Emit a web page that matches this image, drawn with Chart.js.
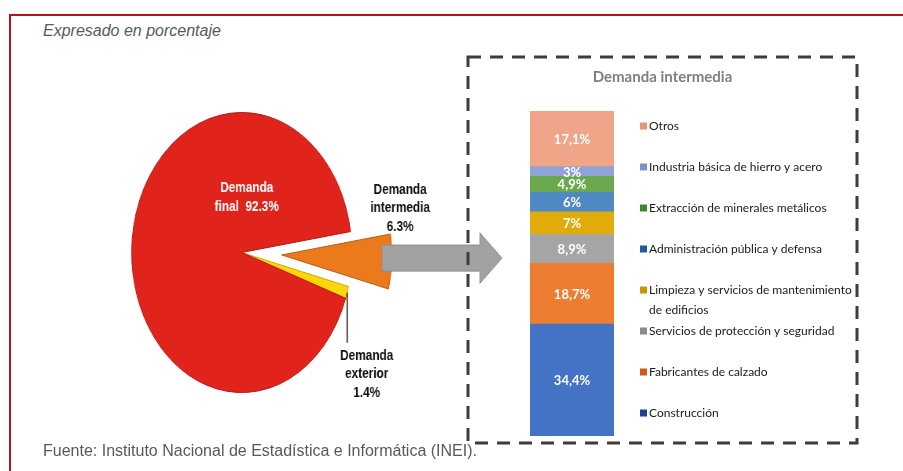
<!DOCTYPE html>
<html>
<head>
<meta charset="utf-8">
<script src="https://cdn.jsdelivr.net/npm/chart.js@4.4.0/dist/chart.umd.min.js"></script>
<style>
  html, body { margin: 0; padding: 0; background: #fff; }
  body { width: 903px; height: 471px; position: relative; overflow: hidden; }
  #frame { position: absolute; left: 9px; top: 14px; right: -5px; bottom: -5px;
           border-top: 2px solid #b81414; border-left: 2px solid #b81414; }
  #subtitle { position: absolute; left: 43px; top: 22px; white-space: nowrap;
              font: italic 16px "Liberation Sans", Arial, sans-serif; color: #595959; }
  #source { position: absolute; left: 43px; top: 442px; white-space: nowrap;
            font: 16px "Liberation Sans", Arial, sans-serif; color: #595959; }
  #pieChart { position: absolute; left: 0; top: 0; transform: scaleX(0.786); transform-origin: 0 0; }
  #barChart { position: absolute; left: 462px; top: 50px; }
</style>
</head>
<body>
<div id="frame"></div>
<div id="subtitle">Expresado en porcentaje</div>
<canvas id="pieChart" width="650" height="471"></canvas>
<canvas id="barChart" width="402" height="400"></canvas>
<div id="source">Fuente: Instituto Nacional de Estadística e Informática (INEI).</div>
<script>
// pie: share of demand
const pieLabels = ['Demanda intermedia', 'Demanda exterior', 'Demanda final'];
const pieValues = [6.3, 1.4, 92.3];
const pieColors = ['#ea7a1c', '#ffd60a', '#e1241b'];
const pieBorders = ['#b85c14', '#d9a400', '#b51616'];

// stacked bar: breakdown of intermediate demand (bottom to top)
const barCategories = [
    'Construcción',
    'Fabricantes de calzado',
    'Servicios de protección y seguridad',
    'Limpieza y servicios de mantenimiento de edificios',
    'Administración pública y defensa',
    'Extracción de minerales metálicos',
    'Industria básica de hierro y acero',
    'Otros'
];
const barValues = [34.4, 18.7, 8.9, 7, 6, 4.9, 3, 17.1];
const barColors = ['#4472c4', '#ed7d31', '#a5a5a5', '#e2ab0c', '#4f89c4', '#6aa84f', '#8fa3d6', '#f0a488'];
const swatchColors = ['#1f3f8f', '#d4561a', '#8a8a8a', '#c99500', '#1f5c99', '#3a8a2e', '#7f90c8', '#e8967a'];

const explode = 51;  // px the first slice is pulled out

const pieDecor = {
    id: 'pieDecor',
    afterDatasetsUpdate(chart) {
        // pull the slice out without the radius growth of the built-in offset
        const arc = chart.getDatasetMeta(0).data[0];
        if (arc._exploded) return;
        const draw = arc.draw;
        arc.draw = function (ctx, area) {
            const m = (this.startAngle + this.endAngle) / 2;
            ctx.save();
            ctx.translate(Math.cos(m) * explode, Math.sin(m) * explode);
            draw.call(this, ctx, area);
            ctx.restore();
        };
        arc._exploded = true;
    },
    afterDatasetsDraw(chart) {
        const ctx = chart.ctx;
        const arcs = chart.getDatasetMeta(0).data;
        const inter = arcs[0], ext = arcs[1];
        const cx = inter.x, cy = inter.y, r = inter.outerRadius;

        // grey arrow pointing to the breakdown
        const x0 = cx + 1.275 * r, xb = cx + 2.165 * r, xt = cx + 2.365 * r;
        const yc = cy + 0.04 * r, hb = 0.093 * r, hh = 0.18 * r;
        ctx.save();
        ctx.beginPath();
        ctx.moveTo(x0, yc - hb);
        ctx.lineTo(xb, yc - hb);
        ctx.lineTo(xb, yc - hh);
        ctx.lineTo(xt, yc);
        ctx.lineTo(xb, yc + hh);
        ctx.lineTo(xb, yc + hb);
        ctx.lineTo(x0, yc + hb);
        ctx.closePath();
        ctx.fillStyle = '#a2a2a2';
        ctx.fill();
        ctx.strokeStyle = '#8c8c8c';
        ctx.lineWidth = 1;
        ctx.stroke();

        // leader line for the thin slice
        const mid = (ext.startAngle + ext.endAngle) / 2;
        const lx = cx + Math.cos(mid) * r, ly = cy + Math.sin(mid) * r;
        ctx.beginPath();
        ctx.moveTo(lx, ly);
        ctx.lineTo(lx, cy + 0.645 * r);
        ctx.strokeStyle = '#111';
        ctx.lineWidth = 1.5;
        ctx.stroke();

        ctx.font = 'bold 15px "Liberation Sans", Arial, sans-serif';
        ctx.textAlign = 'center';
        ctx.textBaseline = 'middle';
        const lh = 18.5;
        ctx.fillStyle = '#fff';
        ctx.fillText('Demanda', cx + 0.046 * r, cy - 0.46 * r);
        ctx.fillText('final  ' + pieValues[2] + '%', cx + 0.046 * r, cy - 0.46 * r + lh);

        ctx.fillStyle = '#111';
        const ix = cx + 1.44 * r, iy = cy - 0.448 * r;
        ctx.fillText('Demanda', ix, iy);
        ctx.fillText('intermedia', ix, iy + lh);
        ctx.fillText(pieValues[0] + '%', ix, iy + 2 * lh);

        const ex = cx + 1.136 * r, ey = cy + 0.738 * r;
        ctx.fillText('Demanda', ex, ey);
        ctx.fillText('exterior', ex, ey + lh);
        ctx.fillText(pieValues[1] + '%', ex, ey + 2 * lh);
        ctx.restore();
    }
};

new Chart(document.getElementById('pieChart'), {
    type: 'pie',
    data: {
        labels: pieLabels,
        datasets: [{
            data: pieValues,
            backgroundColor: pieColors,
            borderColor: pieBorders,
            borderWidth: 1,
            hoverOffset: 0,
            clip: false
        }]
    },
    options: {
        responsive: false,
        animation: false,
        events: [],
        rotation: 81.4,
        radius: 140,
        layout: { padding: { left: 0, right: 35, top: 34, bottom: 0 } },
        plugins: { legend: { display: false }, tooltip: { enabled: false } }
    },
    plugins: [pieDecor]
});

const boxDecor = {
    id: 'boxDecor',
    beforeDraw(chart) {
        const ctx = chart.ctx;
        ctx.save();
        ctx.setLineDash([13, 9]);
        ctx.lineWidth = 3;
        ctx.strokeStyle = '#3c3c3c';
        ctx.strokeRect(6, 7, 389, 386);
        ctx.setLineDash([]);
        ctx.font = 'bold 15px Lato, sans-serif';
        ctx.fillStyle = '#7f7f7f';
        ctx.textAlign = 'center';
        ctx.textBaseline = 'middle';
        ctx.fillText('Demanda intermedia', 200.5, 27);
        ctx.restore();
    },
    afterDatasetsDraw(chart) {
        const ctx = chart.ctx;
        const area = chart.chartArea;
        ctx.save();
        // values inside the segments
        ctx.font = 'bold 13px Lato, sans-serif';
        ctx.fillStyle = '#fff';
        ctx.textAlign = 'center';
        ctx.textBaseline = 'middle';
        barValues.forEach((v, i) => {
            const bar = chart.getDatasetMeta(i).data[0];
            ctx.fillText(String(v).replace('.', ',') + '%', bar.x, (bar.y + bar.base) / 2 + 1);
        });

        // legend, top item is the last series
        ctx.font = '12px Lato, sans-serif';
        ctx.textAlign = 'left';
        const sx = area.right + 26, tx = sx + 9, maxW = 389 + 6 - tx - 2;
        barCategories.slice().reverse().forEach((name, k) => {
            const i = barCategories.length - 1 - k;
            const y = area.top + 15 + k * 41;
            ctx.fillStyle = swatchColors[i];
            ctx.fillRect(sx, y - 3.5, 7, 7);
            ctx.fillStyle = '#1a1a1a';
            const words = name.split(' ');
            let line = '', ly = y;
            words.forEach(w => {
                const test = line ? line + ' ' + w : w;
                if (ctx.measureText(test).width > maxW && line) {
                    ctx.fillText(line, tx, ly);
                    line = w;
                    ly += 20;
                } else {
                    line = test;
                }
            });
            ctx.fillText(line, tx, ly);
        });
        ctx.restore();
    }
};

new Chart(document.getElementById('barChart'), {
    type: 'bar',
    data: {
        labels: [''],
        datasets: barCategories.map((name, i) => ({
            label: name,
            data: [barValues[i]],
            backgroundColor: barColors[i],
            barPercentage: 1,
            categoryPercentage: 1
        }))
    },
    options: {
        responsive: false,
        animation: false,
        events: [],
        layout: { padding: { left: 68, right: 250, top: 61, bottom: 14 } },
        scales: {
            x: { stacked: true, display: false },
            y: { stacked: true, display: false, min: 0, max: 100 }
        },
        plugins: { legend: { display: false }, tooltip: { enabled: false } }
    },
    plugins: [boxDecor]
});
</script>
</body>
</html>
